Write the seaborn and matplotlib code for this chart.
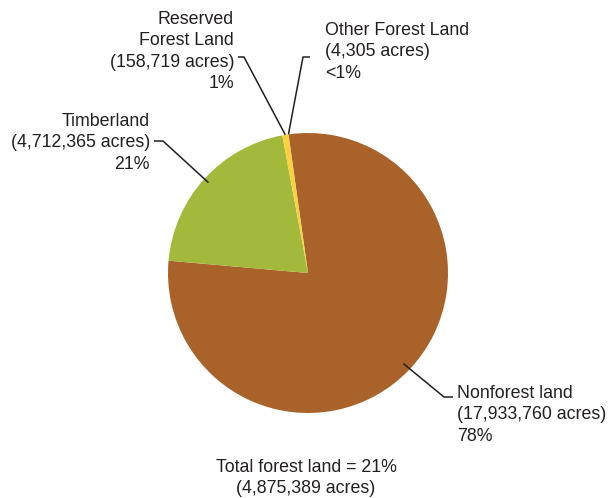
import numpy as np
import matplotlib
matplotlib.use("Agg")
import matplotlib.pyplot as plt
import seaborn as sns

# Land area by category (acres)
categories = ["Nonforest land", "Timberland", "Reserved\nForest Land", "Other Forest Land"]
acres = [17933760, 4712365, 158719, 4305]
pct_labels = ["78%", "21%", "1%", "<1%"]
colors = ["#A8622A", "#A3B93B", "#F9D13E", "#E8A33A"]
total_forest_pct = "21%"
total_forest_acres = 4875389

sns.set_theme(style="white")
plt.rcParams["font.family"] = ["Liberation Sans", "DejaVu Sans"]
TXT = "#231F20"
FS = 12.8
LS = 1.34

W, H = 609, 498
fig = plt.figure(figsize=(W / 100, H / 100), dpi=100)
ax = fig.add_axes([0, 0, 1, 1])

cx, cy, R = 308, H - 273, 140
wedges, _ = ax.pie(acres, colors=colors, startangle=98, counterclock=False,
                   center=(cx, cy), radius=R, frame=True,
                   wedgeprops=dict(linewidth=0))
ax.set_xlim(0, W)
ax.set_ylim(0, H)
ax.set_axis_off()


def anchor(w, frac):
    ang = np.deg2rad((w.theta1 + w.theta2) / 2)
    return cx + frac * R * np.cos(ang), cy + frac * R * np.sin(ang)


def ypx(y):
    return H - y


def label(text, x, y, ha):
    ax.text(x, ypx(y), text, ha=ha, va="top", fontsize=FS, color=TXT,
            linespacing=LS, multialignment=ha)


def leader(pts):
    xs, ys = zip(*pts)
    ax.plot(xs, ys, color="#231F20", lw=1.1, solid_capstyle="butt")


fmt = lambda v: f"({v:,} acres)"

# Nonforest land
nx, ny = anchor(wedges[0], 0.94)
leader([(nx, ny), (444, ypx(397)), (453, ypx(397))])
label(f"{categories[0]}\n{fmt(acres[0])}\n{pct_labels[0]}", 457, 385, "left")

# Timberland
tx, ty = anchor(wedges[1], 0.96)
leader([(154, ypx(141)), (163, ypx(141)), (tx, ty)])
label(f"{categories[1]}\n{fmt(acres[1])}\n{pct_labels[1]}", 150, 113, "right")

# Reserved forest land
rx, ry = anchor(wedges[2], 1.0)
leader([(238, ypx(57)), (244, ypx(57)), (rx, ry)])
label(f"{categories[2]}\n{fmt(acres[2])}\n{pct_labels[2]}", 234, 11, "right")

# Other forest land
ox, oy = anchor(wedges[3], 1.0)
leader([(ox, oy), (303, ypx(57)), (310, ypx(57))])
label(f"{categories[3]}\n{fmt(acres[3])}\n{pct_labels[3]}", 325, 22, "left")

# Total
label(f"Total forest land = {total_forest_pct}\n{fmt(total_forest_acres)}", 306, 459, "center")

fig.savefig("out.png", dpi=100, facecolor="white")
